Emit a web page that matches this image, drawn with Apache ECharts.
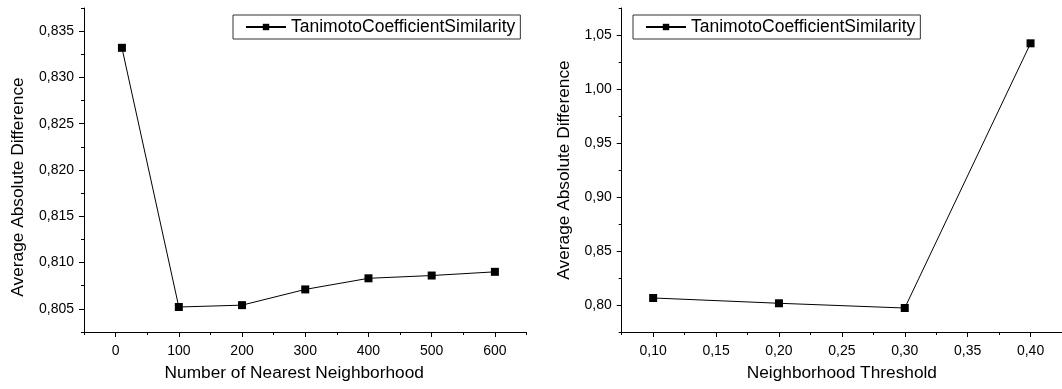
<!DOCTYPE html>
<html>
<head>
<meta charset="utf-8">
<script src="https://cdn.jsdelivr.net/npm/echarts@6/dist/echarts.min.js"></script>
<style>
html,body{margin:0;padding:0;background:#fff;}
#c{width:1062px;height:389px;}
</style>
</head>
<body>
<div id="c"></div>
<script>
// ---- data ----
const seriesName = 'TanimotoCoefficientSimilarity';
const leftX = [10, 100, 200, 300, 400, 500, 600];
const leftY = [0.8332, 0.8052, 0.8054, 0.8071, 0.8083, 0.8086, 0.8090];
const rightX = [0.10, 0.20, 0.30, 0.40];
const rightY = [0.8065, 0.8016, 0.7972, 1.0423];
const leftXTicks = [0, 100, 200, 300, 400, 500, 600];
const leftYTicks = [0.805, 0.810, 0.815, 0.820, 0.825, 0.830, 0.835];
const rightXTicks = [0.10, 0.15, 0.20, 0.25, 0.30, 0.35, 0.40];
const rightYTicks = [0.80, 0.85, 0.90, 0.95, 1.00, 1.05];
const leftXTitle = 'Number of Nearest Neighborhood';
const rightXTitle = 'Neighborhood Threshold';
const yTitle = 'Average Absolute Difference';

const FONT = "'Liberation Sans', Arial, sans-serif";
const comma = d => v => v.toFixed(d).replace('.', ',');

function majorAxis(grid, min, max, ticks, fmt, extra) {
  return Object.assign({
    type: 'value', gridIndex: grid, min: min, max: max,
    axisLine: {show: true, onZero: false, lineStyle: {color: '#000', width: 1}},
    axisTick: {show: true, inside: false, length: 5, customValues: ticks, lineStyle: {color: '#000'}},
    axisLabel: {show: true, customValues: ticks, formatter: fmt, color: '#000', fontSize: 14, fontFamily: FONT},
    splitLine: {show: false}
  }, extra);
}
function minorAxis(grid, min, max, interval, extra) {
  return Object.assign({
    type: 'value', gridIndex: grid, min: min, max: max, interval: interval,
    axisLine: {show: false, onZero: false},
    axisTick: {show: true, inside: false, length: 3, lineStyle: {color: '#000'}},
    axisLabel: {show: false},
    splitLine: {show: false}
  }, extra);
}

const nameStyleX = {color: '#000', fontSize: 17.3, fontFamily: FONT};
const legendStyle = (left) => ({
  data: [seriesName], left: left, top: 15, orient: 'horizontal',
  padding: [3, 5, 3, 12], itemWidth: 40, itemHeight: 8,
  borderColor: '#333', borderWidth: 1, selectedMode: false,
  textStyle: {color: '#000', fontSize: 17.5, fontFamily: FONT}
});

const option = {
  backgroundColor: '#fff',
  animation: false,
  grid: [
    {left: 84, top: 8, width: 442.5, height: 324},
    {left: 621.7, top: 8, width: 443.3, height: 324}
  ],
  legend: [legendStyle(233), legendStyle(633)],
  xAxis: [
    majorAxis(0, -50, 650, leftXTicks, v => String(v), {
      position: 'bottom', name: leftXTitle, nameLocation: 'middle', nameGap: 33,
      nameTextStyle: Object.assign({padding: [0, 22, 0, 0]}, nameStyleX),
      axisLabel: {customValues: leftXTicks, formatter: v => String(v), color: '#000', fontSize: 14, fontFamily: FONT, margin: 12}
    }),
    minorAxis(0, -50, 650, 50, {position: 'bottom'}),
    majorAxis(1, 0.075, 0.425, rightXTicks, comma(2), {
      position: 'bottom', name: rightXTitle, nameLocation: 'middle', nameGap: 33,
      nameTextStyle: nameStyleX,
      axisLabel: {customValues: rightXTicks, formatter: comma(2), color: '#000', fontSize: 14, fontFamily: FONT, margin: 12}
    }),
    minorAxis(1, 0.075, 0.425, 0.025, {position: 'bottom'})
  ],
  yAxis: [
    majorAxis(0, 0.8025, 0.8375, leftYTicks, comma(3), {
      position: 'left', name: yTitle, nameLocation: 'middle', nameGap: 57,
      nameTextStyle: Object.assign({padding: [0, 34, 0, 0]}, nameStyleX),
      axisLabel: {customValues: leftYTicks, formatter: comma(3), color: '#000', fontSize: 14, fontFamily: FONT, margin: 10}
    }),
    minorAxis(0, 0.8025, 0.8375, 0.0025, {position: 'left'}),
    majorAxis(1, 0.775, 1.075, rightYTicks, comma(2), {
      position: 'left', name: yTitle, nameLocation: 'middle', nameGap: 49,
      nameTextStyle: nameStyleX,
      axisLabel: {customValues: rightYTicks, formatter: comma(2), color: '#000', fontSize: 14, fontFamily: FONT, margin: 10}
    }),
    minorAxis(1, 0.775, 1.075, 0.025, {position: 'left'})
  ],
  series: [
    {name: seriesName, type: 'line', xAxisIndex: 0, yAxisIndex: 0,
     data: leftX.map((x, i) => [x, leftY[i]]),
     symbol: 'rect', symbolSize: 8, showSymbol: true,
     lineStyle: {color: '#000', width: 1}, itemStyle: {color: '#000'}},
    {name: seriesName, type: 'line', xAxisIndex: 2, yAxisIndex: 2,
     data: rightX.map((x, i) => [x, rightY[i]]),
     symbol: 'rect', symbolSize: 8, showSymbol: true,
     lineStyle: {color: '#000', width: 1}, itemStyle: {color: '#000'}}
  ]
};
const chart = echarts.init(document.getElementById('c'), null, {renderer: 'canvas'});
chart.setOption(option);
</script>
</body>
</html>
